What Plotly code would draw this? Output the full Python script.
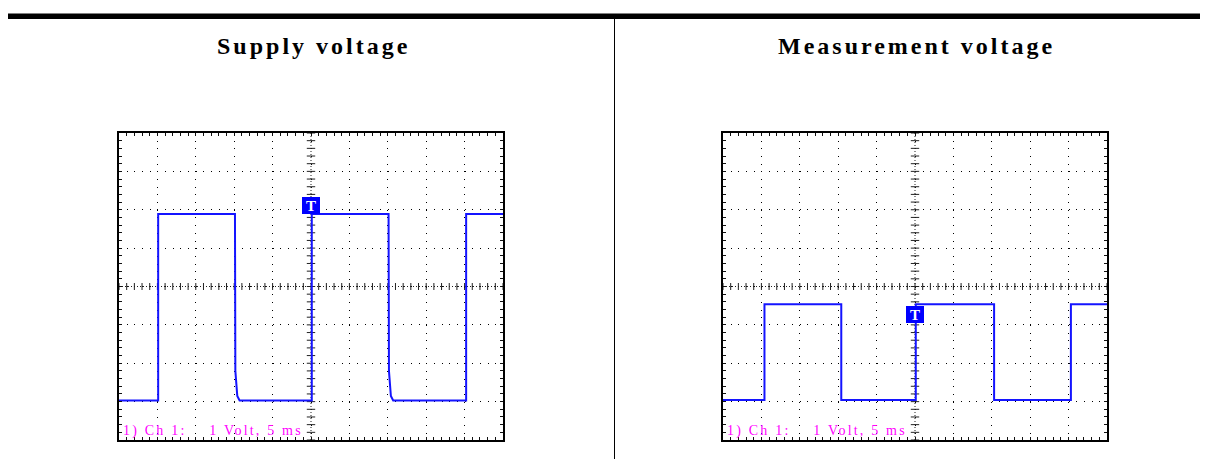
import numpy as np
import plotly.graph_objects as go

# page is 1208x459, html body has an 8px margin -> figure sits at (8, 8)
OFF = 8
W, H = 1208 - OFF, 459 - OFF

# ---- data (ms, volts) ----
titles = ["Supply voltage", "Measurement voltage"]
label_text = "1) Ch 1:&nbsp;&nbsp;&nbsp;&nbsp;1 Volt, 5 ms"

supply_t = [-25, -19.9, -19.9, -9.9, -9.85, -9.6, -9.3, 0.1, 0.1, 10.1, 10.15, 10.4, 10.7, 20.2, 20.2, 25]
supply_v = [-2.97, -2.97, 1.89, 1.89, -2.2, -2.85, -2.97, -2.97, 1.89, 1.89, -2.2, -2.85, -2.97, -2.97, 1.89, 1.89]

meas_t = [-25, -19.6, -19.6, -9.6, -9.6, 0.1, 0.1, 10.3, 10.3, 20.3, 20.3, 25]
meas_v = [-2.96, -2.96, -0.46, -0.46, -2.96, -2.96, -0.46, -0.46, -2.96, -2.96, -0.46, -0.46]

trigger_t = [0.0, 0.05]
trigger_v = [2.12, -0.74]

x_range = [-25, 25]
y_range = [-4, 4]

# ---- layout geometry (page pixels) ----
panels = [(119, 503), (723, 1107)]
top_px, bot_px = 133, 440


def px(xp):
    return (xp - OFF) / W


def py(yp):
    return (H - (yp - OFF)) / H


fig = go.Figure()

series = [(supply_t, supply_v), (meas_t, meas_v)]
minor_x = np.arange(-25, 25.01, 1.0)
minor_y = np.arange(-4, 4.01, 0.2)

for i, ((x0, x1), (ts, vs)) in enumerate(zip(panels, series)):
    n = "" if i == 0 else str(i + 1)
    xa, ya = "x" + n, "y" + n
    # center axis lines with small ticks
    fig.add_trace(go.Scatter(x=x_range, y=[0, 0], mode="lines", xaxis=xa, yaxis=ya,
                             line=dict(color="#222", width=1, dash="1px,2px"),
                             hoverinfo="skip", showlegend=False))
    fig.add_trace(go.Scatter(x=[0, 0], y=y_range, mode="lines", xaxis=xa, yaxis=ya,
                             line=dict(color="#222", width=1, dash="1px,2px"),
                             hoverinfo="skip", showlegend=False))
    fig.add_trace(go.Scatter(x=minor_x, y=np.zeros_like(minor_x), mode="markers", xaxis=xa, yaxis=ya,
                             marker=dict(symbol="line-ns", size=5, line=dict(color="#222", width=1)),
                             hoverinfo="skip", showlegend=False))
    fig.add_trace(go.Scatter(x=np.zeros_like(minor_y), y=minor_y, mode="markers", xaxis=xa, yaxis=ya,
                             marker=dict(symbol="line-ew", size=6, line=dict(color="#222", width=1)),
                             hoverinfo="skip", showlegend=False))
    # signal
    fig.add_trace(go.Scatter(x=ts, y=vs, mode="lines", xaxis=xa, yaxis=ya,
                             line=dict(color="#1414ff", width=2),
                             hoverinfo="skip", showlegend=False))

    common = dict(showticklabels=False, showline=True, linecolor="black", linewidth=1.5,
                  mirror="ticks", ticks="inside", ticklen=3, tickcolor="#111",
                  showgrid=True, gridcolor="#000", gridwidth=1, griddash="1px,6.68px",
                  zeroline=False, fixedrange=True,
                  minor=dict(ticks="inside", ticklen=3, tickcolor="#111", showgrid=False))
    fig.layout["xaxis" + n] = dict(domain=[px(x0), px(x1)], range=x_range, dtick=5, tick0=0,
                                   anchor=ya, **common)
    fig.layout["xaxis" + n].minor.dtick = 1
    fig.layout["yaxis" + n] = dict(domain=[py(bot_px), py(top_px)], range=y_range,
                                   dtick=1, tick0=0, anchor=xa, **common)
    fig.layout["yaxis" + n].minor.dtick = 0.2

    # trigger marker
    fig.add_annotation(x=trigger_t[i], y=trigger_v[i], xref=xa, yref=ya, text="<b>T</b>",
                       showarrow=False, font=dict(family="Liberation Serif", size=15, color="white"),
                       bgcolor="#0000ff", bordercolor="#0000ff", borderpad=0, width=16, height=15)
    # channel label
    fig.add_annotation(x=0.005, y=-0.004, xref=xa + " domain", yref=ya + " domain",
                       text='<span style="letter-spacing:2.2px">' + label_text + "</span>",
                       showarrow=False, xanchor="left", yanchor="bottom",
                       font=dict(family="Liberation Serif", size=14, color="#ff00ff"))
    # title
    fig.add_annotation(x=px((x0 + x1) / 2 + 2), y=py(46), xref="paper", yref="paper",
                       text='<span style="letter-spacing:3px"><b>' + titles[i] + "</b></span>",
                       showarrow=False, xanchor="center", yanchor="middle",
                       font=dict(family="Liberation Serif", size=24, color="black"))

# decorative frame: top bar and divider
fig.add_shape(type="rect", xref="paper", yref="paper", x0=px(8), x1=1, y0=py(19), y1=py(13.5),
              fillcolor="black", line=dict(width=0))
fig.add_shape(type="line", xref="paper", yref="paper", x0=px(614.5), x1=px(614.5), y0=0, y1=py(19),
              line=dict(color="black", width=1))

fig.update_layout(width=W, height=H, margin=dict(l=0, r=0, t=0, b=0),
                  paper_bgcolor="white", plot_bgcolor="white")

fig.write_html("out.html")
